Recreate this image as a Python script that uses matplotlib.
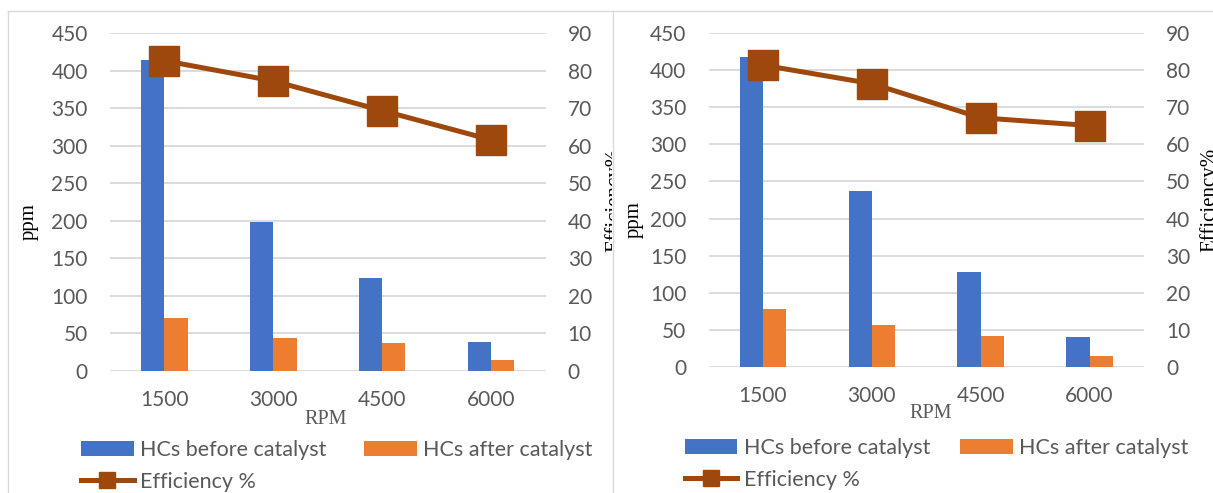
import matplotlib
matplotlib.use("Agg")
import matplotlib.pyplot as plt
from matplotlib.lines import Line2D
from matplotlib.patches import Patch
from matplotlib.transforms import Bbox, TransformedBbox
import numpy as np

rpm = ["1500", "3000", "4500", "6000"]
before_a = [414, 198, 124, 38]
after_a = [71, 44, 37, 14]
eff_a = [82.7, 77.3, 69.4, 61.6]
before_b = [418, 237, 128, 40]
after_b = [78, 56, 42, 14]
eff_b = [81.4, 76.4, 67.2, 65.1]
labels = ["HCs before catalyst", "HCs after catalyst", "Efficiency %"]

W, H = 1213, 493
BLUE = "#4472C4"
ORANGE = "#ED7D31"
BROWN = "#9E480E"
GRID = "#D9D9D9"
TXT = "#595959"
SANS = "Lato"
SERIF = "Liberation Serif"

fig = plt.figure(figsize=(W / 100, H / 100), dpi=100)


def fx(x):
    return x / W


def fy(y):
    return 1 - y / H


def rect(x0, y0, x1, y1):
    return [fx(x0), fy(y1), fx(x1 - x0), (y1 - y0) / H]


# panel borders
fig.add_artist(Line2D([fx(7.5), 1], [fy(11), fy(11)], color=GRID, lw=1))
fig.add_artist(Line2D([fx(7.5), fx(7.5)], [fy(11), 0], color=GRID, lw=1))
fig.add_artist(Line2D([fx(612.5), fx(612.5)], [fy(11), 0], color=GRID, lw=1))


def panel(box, before, after, eff, ppm_xy, rpm_xy, leg_xy, colsp, eff_lbl_x, clip):
    ax = fig.add_axes(rect(*box))
    x = np.arange(len(rpm))
    w = 0.214
    ax.bar(x - w / 2, before, w, color=BLUE, zorder=2)
    ax.bar(x + w / 2, after, w, color=ORANGE, zorder=2)
    ax.set_xlim(-0.5, 3.5)
    ax.set_ylim(0, 450)
    ax.set_yticks(np.arange(0, 451, 50))
    ax.set_xticks(x)
    ax.set_xticklabels(rpm)
    ax.grid(axis="y", color=GRID, lw=1.3, zorder=0)
    ax.set_axisbelow(True)
    for s in ax.spines.values():
        s.set_visible(False)
    ax.tick_params(axis="both", length=0, labelsize=15, labelcolor=TXT)
    ax.tick_params(axis="y", pad=16)
    ax.tick_params(axis="x", pad=14)
    for t in ax.get_xticklabels() + ax.get_yticklabels():
        t.set_fontfamily(SANS)

    ax2 = ax.twinx()
    ax2.plot(x, eff, color=BROWN, lw=3.6, marker="s", ms=22,
             markerfacecolor=BROWN, markeredgecolor=BROWN, zorder=3)
    ax2.set_ylim(0, 90)
    ax2.set_yticks(np.arange(0, 91, 10))
    for s in ax2.spines.values():
        s.set_visible(False)
    ax2.tick_params(axis="y", length=0, labelsize=15, labelcolor=TXT, pad=16)
    for t in ax2.get_yticklabels():
        t.set_fontfamily(SANS)

    fig.text(fx(ppm_xy[0]), fy(ppm_xy[1]), "ppm", rotation=90, ha="center",
             va="center", fontsize=15, family=SERIF, color="black")
    fig.text(fx(rpm_xy[0]), fy(rpm_xy[1]), "RPM", ha="center", va="center",
             fontsize=14.5, family=SERIF, color=TXT)
    et = fig.text(fx(eff_lbl_x), fy(200), "Efficiency%", rotation=90, ha="left",
                  va="center", fontsize=15, family=SERIF, color="black")
    et.set_clip_box(TransformedBbox(Bbox([[fx(clip[0]), 0], [fx(clip[1]), 1]]),
                                    fig.transFigure))
    et.set_clip_on(True)

    handles = [
        Patch(facecolor=BLUE, edgecolor="none"),
        Line2D([], [], color=BROWN, lw=3.6, marker="s", ms=12,
               markerfacecolor=BROWN, markeredgecolor=BROWN),
        Patch(facecolor=ORANGE, edgecolor="none"),
    ]
    lbls = [labels[0], labels[2], labels[1]]
    fig.legend(handles, lbls, loc="upper left",
               bbox_to_anchor=(fx(leg_xy[0]), fy(leg_xy[1])),
               ncol=2, frameon=False, borderpad=0, borderaxespad=0,
               handlelength=2.45, handleheight=0.66, handletextpad=0.3,
               columnspacing=colsp, labelspacing=0.55,
               prop={"family": SANS, "size": 15.5}, labelcolor=TXT)
    return ax


panel((110, 33.3, 545.5, 371), before_a, after_a, eff_a, (29, 222), (326, 420),
      (81, 440), 1.75, 604, (0, 612))
panel((708.5, 33.3, 1144, 366.7), before_b, after_b, eff_b, (634, 220),
      (930.7, 413), (684.5, 438), 1.4, 1199, (613, W))

fig.savefig("out.png", dpi=100)
